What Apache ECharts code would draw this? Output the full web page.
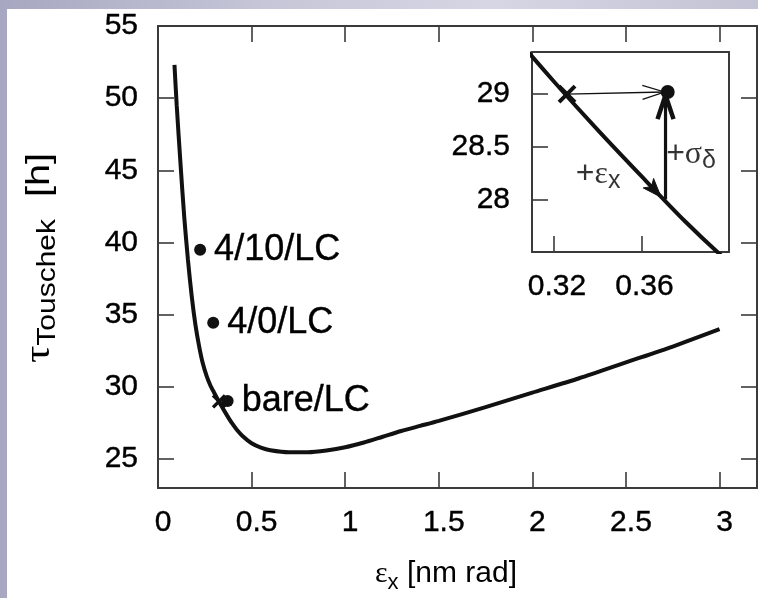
<!DOCTYPE html>
<html>
<head>
<meta charset="utf-8">
<script src="https://cdn.jsdelivr.net/npm/echarts@6/dist/echarts.min.js"></script>
<style>
  html, body { margin: 0; padding: 0; }
  body {
    width: 758px; height: 598px; position: relative; overflow: hidden;
    background: linear-gradient(90deg, #a7a7c1 0%, #c6c6d8 35%, #d6d6e4 65%, #c3c3d5 100%);
  }
  #paper { position: absolute; left: 7px; top: 9px; right: 0; bottom: 0; background: #ffffff; }
  #chart { position: absolute; left: 0; top: 0; width: 758px; height: 598px; }
</style>
</head>
<body>
<div id="paper"></div>
<div id="chart"></div>
<script>
// Touschek lifetime as a function of horizontal emittance
const emittance = [0.088, 0.10, 0.12, 0.14, 0.16, 0.18, 0.20, 0.22, 0.24, 0.26, 0.28,
  0.30, 0.32, 0.34, 0.36, 0.38, 0.40, 0.42, 0.45, 0.50, 0.55, 0.60, 0.70, 0.80, 0.90,
  1.00, 1.10, 1.20, 1.30, 1.40, 1.50, 1.75, 2.00, 2.25, 2.50, 2.75, 3.00];
const lifetime = [52.3, 49.5, 45.5, 41.8, 38.8, 36.3, 34.3, 32.8, 31.6, 30.75, 30.1,
  29.6, 29.12, 28.66, 28.22, 27.79, 27.4, 27.05, 26.62, 26.1, 25.8, 25.62, 25.48, 25.48, 25.6,
  25.82, 26.15, 26.55, 26.95, 27.3, 27.65, 28.6, 29.6, 30.6, 31.7, 32.8, 34.0];

// lattice variants
const latticeNames = ['4/10/LC', '4/0/LC', 'bare/LC'];
const latticeEmittance = [0.225, 0.295, 0.372];
const latticeLifetime = [39.5, 34.45, 29.02];

// reference working point (cross)
const refEmittance = [0.326];
const refLifetime = [29.0];

// axis ticks
const xTicks = [0, 0.5, 1, 1.5, 2, 2.5, 3];
const yTicks = [25, 30, 35, 40, 45, 50, 55];
const zoomXTicks = [0.32, 0.36];
const zoomYTicks = [28, 28.5, 29];

// arrows in the zoomed panel: [x0, y0, x1, y1]
const shiftArrow = [0.326, 29.0, 0.3705, 29.02];
const sigmaArrow = [0.371, 28.0, 0.371, 28.99];
const emitArrow = [0.335, 28.8, 0.369, 28.02];

const INK = '#000000';
const LINE = '#111111';
const FRAME = '#3a3a3a';
const SANS = '"Liberation Sans", Arial, sans-serif';
const SERIF = '"Liberation Serif", "DejaVu Serif", serif';
const LABEL_SIZE = 30;
const BOLDEN = { textBorderColor: INK, textBorderWidth: 0.4 };

const chart = echarts.init(document.getElementById('chart'), null, { renderer: 'canvas' });

function frameAxis(extra) {
  return Object.assign({
    type: 'value',
    splitLine: { show: false },
    axisLine: { show: true, onZero: false, lineStyle: { color: FRAME, width: 2 } },
    axisTick: { show: false },
    axisLabel: { show: false }
  }, extra);
}

function tickSet(values, len) {
  return { show: true, inside: true, length: len, customValues: values,
    lineStyle: { color: FRAME, width: 1.6 } };
}

function labelSet(values, margin, extra) {
  return Object.assign({ show: true, customValues: values, margin: margin,
    color: INK, fontFamily: SANS, fontSize: LABEL_SIZE }, BOLDEN, extra || {});
}

function arrowSeries(coords, opt) {
  return {
    type: 'custom',
    xAxisIndex: 2, yAxisIndex: 2,
    z: 12,
    silent: true,
    data: [coords],
    renderItem: function (params, api) {
      const p0 = api.coord([api.value(0), api.value(1)]);
      const p1 = api.coord([api.value(2), api.value(3)]);
      const ang = Math.atan2(p1[1] - p0[1], p1[0] - p0[0]);
      const bx = p1[0] - opt.headLen * Math.cos(ang);
      const by = p1[1] - opt.headLen * Math.sin(ang);
      const nx = -Math.sin(ang) * opt.headHalf;
      const ny = Math.cos(ang) * opt.headHalf;
      const h1 = [bx + nx, by + ny];
      const h2 = [bx - nx, by - ny];
      const children = [];
      if (opt.shaft) {
        children.push({ type: 'line', shape: { x1: p0[0], y1: p0[1], x2: p1[0], y2: p1[1] },
          style: { stroke: LINE, lineWidth: opt.shaft } });
      }
      if (opt.filled) {
        children.push({ type: 'polygon', shape: { points: [p1, h1, [bx + (p1[0] - bx) * 0.25, by + (p1[1] - by) * 0.25], h2] },
          style: { fill: LINE, stroke: LINE, lineWidth: 1 } });
      } else {
        children.push({ type: 'polyline', shape: { points: [h1, p1, h2] },
          style: { stroke: LINE, fill: 'none', lineWidth: opt.headWidth, lineJoin: 'miter' } });
      }
      return { type: 'group', children: children };
    }
  };
}

const crossPath = 'path://M0,0L10,10M10,0L0,10';

const option = {
  animation: false,
  backgroundColor: 'transparent',
  grid: [
    { left: 158, top: 26, width: 599, height: 462 },
    { left: 532, top: 52, width: 197, height: 200 }
  ],
  xAxis: [
    frameAxis({ gridIndex: 0, position: 'bottom', min: 0, max: 3.2,
      axisTick: tickSet(xTicks, 16),
      axisLabel: labelSet(xTicks, 20, { padding: [0, 0, 0, 10] }) }),
    frameAxis({ gridIndex: 0, position: 'top', min: 0, max: 3.2,
      axisTick: tickSet(xTicks, 16) }),
    frameAxis({ gridIndex: 1, position: 'bottom', min: 0.31, max: 0.40,
      axisTick: tickSet(zoomXTicks, 16),
      axisLabel: labelSet(zoomXTicks, 20, { padding: [0, 0, 0, 6] }) }),
    frameAxis({ gridIndex: 1, position: 'top', min: 0.31, max: 0.40 })
  ],
  yAxis: [
    frameAxis({ gridIndex: 0, position: 'left', min: 23, max: 55,
      axisTick: tickSet(yTicks, 16),
      axisLabel: labelSet(yTicks, 20) }),
    frameAxis({ gridIndex: 0, position: 'right', min: 23, max: 55,
      axisTick: tickSet(yTicks, 16) }),
    frameAxis({ gridIndex: 1, position: 'left', min: 27.5, max: 29.4,
      axisTick: tickSet(zoomYTicks, 16),
      axisLabel: labelSet(zoomYTicks, 22) }),
    frameAxis({ gridIndex: 1, position: 'right', min: 27.5, max: 29.4 })
  ],
  series: [
    {
      name: 'lifetime', type: 'line', xAxisIndex: 0, yAxisIndex: 0,
      data: emittance.map((e, i) => [e, lifetime[i]]),
      showSymbol: false, smooth: 0.25, clip: true,
      lineStyle: { color: LINE, width: 4 }, z: 5
    },
    {
      name: 'lattices', type: 'scatter', xAxisIndex: 0, yAxisIndex: 0,
      data: latticeEmittance.map((e, i) => ({ value: [e, latticeLifetime[i]], name: latticeNames[i] })),
      symbol: 'circle', symbolSize: 12,
      itemStyle: { color: LINE, opacity: 1 },
      label: Object.assign({ show: true, position: 'right', distance: 8, formatter: '{b}',
        color: INK, fontFamily: SANS, fontSize: 36 }, BOLDEN),
      z: 8
    },
    {
      name: 'reference', type: 'scatter', xAxisIndex: 0, yAxisIndex: 0,
      data: refEmittance.map((e, i) => [e, refLifetime[i]]),
      symbol: crossPath, symbolSize: 12,
      itemStyle: { color: 'none', borderColor: LINE, borderWidth: 3.5, opacity: 1 },
      z: 7
    },
    {
      name: 'lifetime zoom', type: 'line', xAxisIndex: 2, yAxisIndex: 2,
      data: emittance.map((e, i) => [e, lifetime[i]]),
      showSymbol: false, smooth: 0.25, clip: true,
      lineStyle: { color: LINE, width: 4 }, z: 5
    },
    {
      name: 'bare zoom', type: 'scatter', xAxisIndex: 2, yAxisIndex: 2,
      data: [[latticeEmittance[2], latticeLifetime[2]]],
      symbol: 'circle', symbolSize: 14,
      itemStyle: { color: LINE, opacity: 1 }, z: 9
    },
    {
      name: 'reference zoom', type: 'scatter', xAxisIndex: 2, yAxisIndex: 2,
      data: refEmittance.map((e, i) => [e, refLifetime[i]]),
      symbol: crossPath, symbolSize: 16,
      itemStyle: { color: 'none', borderColor: LINE, borderWidth: 4, opacity: 1 },
      z: 9
    },
    arrowSeries(shiftArrow, { shaft: 1.3, headLen: 22, headHalf: 7, headWidth: 1.3 }),
    arrowSeries(sigmaArrow, { shaft: 3.2, headLen: 24, headHalf: 8, headWidth: 4.5 }),
    arrowSeries(emitArrow, { shaft: 0, filled: true, headLen: 19, headHalf: 7 }),
    {
      name: 'notes', type: 'scatter', xAxisIndex: 2, yAxisIndex: 2,
      symbolSize: 0, silent: true, z: 11,
      data: [
        { value: [0.3300, 28.24], label: { formatter: '{m|+}{g|ε}{s|x}' } },
        { value: [0.3713, 28.43], label: { formatter: '{m|+}{g|σ}{s|δ}' } }
      ],
      label: {
        show: true, position: 'right', distance: 0, color: INK,
        rich: {
          m: { fontFamily: SANS, fontSize: 32, lineHeight: 40, color: INK },
          g: { fontFamily: SERIF, fontSize: 32, lineHeight: 40, color: INK },
          s: { fontFamily: SANS, fontSize: 25, lineHeight: 20, verticalAlign: 'bottom', color: INK }
        }
      }
    }
  ],
  graphic: [
    {
      type: 'text', x: 446, y: 574, z: 20,
      style: {
        text: '{g|ε}{s|x}{m| [nm rad]}',
        align: 'center', verticalAlign: 'middle',
        rich: {
          g: { fontFamily: SERIF, fontSize: LABEL_SIZE, lineHeight: 40, fill: INK },
          m: { fontFamily: SANS, fontSize: LABEL_SIZE, lineHeight: 40, fill: INK },
          s: { fontFamily: SANS, fontSize: 22, lineHeight: 20, verticalAlign: 'bottom', fill: INK }
        }
      }
    },
    {
      type: 'text', x: 40, y: 258, rotation: Math.PI / 2, scaleX: 1.2, z: 20,
      style: {
        text: '{g|τ}{s|Touschek}{m|  [h]}',
        align: 'center', verticalAlign: 'middle',
        rich: {
          g: { fontFamily: SERIF, fontSize: 36, lineHeight: 42, fill: INK },
          m: { fontFamily: SANS, fontSize: 33, lineHeight: 42, fill: INK },
          s: { fontFamily: SANS, fontSize: 25, lineHeight: 22, verticalAlign: 'bottom', fill: INK }
        }
      }
    }
  ]
};

chart.setOption(option);
</script>
</body>
</html>
